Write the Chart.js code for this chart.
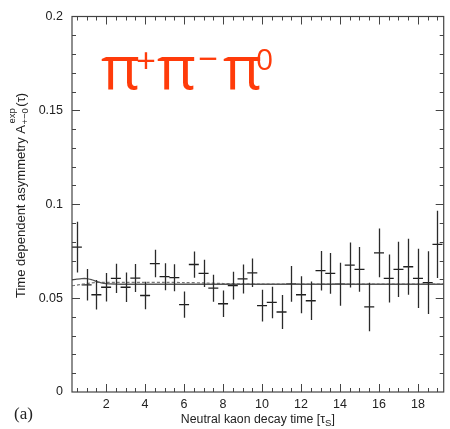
<!DOCTYPE html>
<html>
<head>
<meta charset="utf-8">
<script src="https://cdn.jsdelivr.net/npm/chart.js@4.4.1/dist/chart.umd.min.js"></script>
<style>
  html, body { margin: 0; padding: 0; background: #fff; }
  #chart { display: block; }
</style>
</head>
<body>
<canvas id="chart" width="450" height="429"></canvas>
<script>
// bins of the decay time (tau_S) and measured asymmetry with its error
var binT = [0.5, 1.0, 1.5, 2.0, 2.5, 3.0, 3.5, 4.0, 4.5, 5.0, 5.5, 6.0, 6.5, 7.0, 7.5, 8.0, 8.5, 9.0, 9.5,
    10.0, 10.5, 11.0, 11.5, 12.0, 12.5, 13.0, 13.5, 14.0, 14.5, 15.0, 15.5, 16.0, 16.5, 17.0, 17.5, 18.0, 18.5, 19.0];
var asym = [0.0772, 0.0571, 0.0518, 0.0558, 0.0605, 0.0558, 0.0607, 0.0514, 0.0684, 0.0614, 0.0609, 0.0465, 0.0679,
    0.0632, 0.0553, 0.0470, 0.0567, 0.0602, 0.0635, 0.0460, 0.0477, 0.0426, 0.0576, 0.0518, 0.0486, 0.0646, 0.0632,
    0.0574, 0.0676, 0.0653, 0.0453, 0.0741, 0.0605, 0.0653, 0.0667, 0.0605, 0.0583, 0.0786];
var asymErr = [0.0135, 0.0084, 0.0079, 0.0076, 0.0078, 0.0079, 0.0075, 0.0073, 0.0073, 0.0072, 0.0072, 0.0070, 0.0070,
    0.0073, 0.0072, 0.0070, 0.0074, 0.0077, 0.0076, 0.0084, 0.0084, 0.0090, 0.0095, 0.0098, 0.0103, 0.0105, 0.0109,
    0.0114, 0.0120, 0.0119, 0.0129, 0.0130, 0.0128, 0.0147, 0.0149, 0.0158, 0.0167, 0.0179];

// fit curves
var fitT = [0.25, 0.5, 0.75, 1.0, 1.25, 1.5, 1.75, 2.0, 2.5, 3, 4, 5, 6, 7, 8, 9, 10, 12, 14, 16, 18, 19.32];
var fitSolid = [0.0597, 0.0601, 0.0604, 0.0604, 0.0598, 0.0589, 0.0581, 0.0577, 0.0575, 0.0574, 0.0574, 0.0574, 0.0574,
    0.0574, 0.0574, 0.0574, 0.0574, 0.0574, 0.0574, 0.0574, 0.0574, 0.0574];
var fitDashed = [0.0566, 0.0569, 0.0574, 0.0578, 0.0581, 0.0583, 0.0584, 0.0584, 0.0584, 0.0584, 0.0584, 0.0584, 0.0583,
    0.0581, 0.0578, 0.0576, 0.0575, 0.0575, 0.0575, 0.0575, 0.0575, 0.0575];

// axes
var xTickVals = [2, 4, 6, 8, 10, 12, 14, 16, 18];
var yTickVals = [0, 0.05, 0.1, 0.15, 0.2];

var tickFont = { family: "'Liberation Sans', Arial, sans-serif", size: 12.5 };

function pairs(xs, ys) {
    return xs.map(function (v, i) { return { x: v, y: ys[i] }; });
}

var decor = {
    id: 'decor',
    afterDatasetsDraw: function (chart) {
        var ctx = chart.ctx, xs = chart.scales.x, ys = chart.scales.y;
        ctx.save();
        ctx.strokeStyle = '#2a2a2a';
        ctx.lineWidth = 1.3;
        ctx.beginPath();
        for (var i = 0; i < binT.length; i++) {
            var px = Math.round(xs.getPixelForValue(binT[i])) + 0.5;
            ctx.moveTo(px, ys.getPixelForValue(asym[i] - asymErr[i]));
            ctx.lineTo(px, ys.getPixelForValue(asym[i] + asymErr[i]));
        }
        ctx.stroke();
        ctx.restore();
    },
    afterDraw: function (chart) {
        var ctx = chart.ctx, a = chart.chartArea, xs = chart.scales.x, ys = chart.scales.y;
        ctx.save();
        // frame
        ctx.strokeStyle = '#444';
        ctx.lineWidth = 1.2;
        ctx.strokeRect(a.left, a.top, a.right - a.left, a.bottom - a.top);

        // inward ticks on all four sides
        ctx.lineWidth = 1;
        ctx.beginPath();
        for (var k = 1; k * 0.5 < xs.max; k++) {
            var t = k * 0.5;
            var px = Math.round(xs.getPixelForValue(t)) + 0.5;
            var len = (k % 4 === 0) ? 8 : 4;
            ctx.moveTo(px, a.bottom); ctx.lineTo(px, a.bottom - len);
            ctx.moveTo(px, a.top); ctx.lineTo(px, a.top + len);
        }
        for (var j = 1; j < 20; j++) {
            var py = Math.round(ys.getPixelForValue(j * 0.01)) + 0.5;
            var l2 = (j % 5 === 0) ? 8 : 4;
            ctx.moveTo(a.left, py); ctx.lineTo(a.left + l2, py);
            ctx.moveTo(a.right, py); ctx.lineTo(a.right - l2, py);
        }
        ctx.stroke();

        // x axis title
        ctx.fillStyle = '#222';
        ctx.textBaseline = 'alphabetic';
        ctx.textAlign = 'left';
        var f = "12.3px 'Liberation Sans', Arial, sans-serif";
        var fs = "9.5px 'Liberation Sans', Arial, sans-serif";
        ctx.font = f;
        var p1 = 'Neutral kaon decay time [\u03c4';
        var w1 = ctx.measureText(p1).width;
        ctx.font = fs;
        var w2 = ctx.measureText('S').width;
        ctx.font = f;
        var w3 = ctx.measureText(']').width;
        var x0 = (a.left + a.right) / 2 - (w1 + w2 + w3) / 2;
        var by = 422.5;
        ctx.fillText(p1, x0, by);
        ctx.font = fs;
        ctx.fillText('S', x0 + w1, by + 3);
        ctx.font = f;
        ctx.fillText(']', x0 + w1 + w2, by);

        // y axis title, rotated
        var fy = "13px 'Liberation Sans', Arial, sans-serif";
        ctx.save();
        ctx.translate(25, 298);
        ctx.rotate(-Math.PI / 2);
        ctx.font = fy;
        var q1 = 'Time dependent asymmetry A';
        ctx.fillText(q1, 0, 0);
        var qx = ctx.measureText(q1).width + 0.5;
        ctx.font = fs;
        ctx.fillText('+\u22120', qx, 3);
        ctx.fillText('exp', qx + 1, -10);
        var qw = ctx.measureText('+\u22120').width;
        ctx.font = fy;
        ctx.fillText('(\u03c4)', qx + qw + 1.5, 0);
        ctx.restore();

        // panel label
        ctx.font = "17px 'Liberation Serif', 'Times New Roman', serif";
        ctx.fillStyle = '#222';
        ctx.fillText('(a)', 14, 419);

        // channel label
        ctx.fillStyle = '#ff3b0a';
        var big = "60px 'Open Sans', 'Noto Sans', sans-serif";
        var sup = "35px 'Open Sans', 'Noto Sans', sans-serif";
        ctx.font = big;
        ctx.fillText('\u03c0', 101, 89);
        ctx.fillText('\u03c0', 157, 89);
        ctx.fillText('\u03c0', 223, 89);
        ctx.font = sup;
        ctx.fillText('+', 136, 73);
        ctx.fillText('\u2212', 198, 71);
        ctx.font = "30px 'Open Sans', 'Noto Sans', sans-serif";
        ctx.fillText('0', 256, 70);
        ctx.restore();
    }
};

var ctx = document.getElementById('chart');
var chart = new Chart(ctx, {
    type: 'scatter',
    data: {
        datasets: [
            {
                label: 'fit',
                data: pairs(fitT, fitSolid),
                showLine: true,
                borderColor: '#555',
                borderWidth: 1.3,
                pointRadius: 0,
                tension: 0.3
            },
            {
                label: 'fit2',
                data: pairs(fitT, fitDashed),
                showLine: true,
                borderColor: '#777',
                borderWidth: 1.2,
                borderDash: [3, 2],
                pointRadius: 0,
                tension: 0.3
            },
            {
                label: 'data',
                data: pairs(binT, asym),
                pointStyle: 'line',
                pointRadius: 5,
                pointBorderWidth: 1.3,
                pointBorderColor: '#1e1e1e',
                pointBackgroundColor: '#1e1e1e'
            }
        ]
    },
    options: {
        responsive: false,
        animation: false,
        layout: { padding: { top: 8, right: 2, left: 0, bottom: 0 } },
        plugins: {
            legend: { display: false },
            tooltip: { enabled: false }
        },
        scales: {
            x: {
                type: 'linear',
                min: 0.25,
                max: 19.32,
                afterBuildTicks: function (scale) {
                    scale.ticks = xTickVals.map(function (v) { return { value: v }; });
                },
                afterFit: function (scale) { scale.height = 37; },
                grid: { display: false, drawTicks: false },
                border: { display: false },
                ticks: { font: tickFont, color: '#222', padding: 5, maxRotation: 0, autoSkip: false }
            },
            y: {
                type: 'linear',
                min: 0,
                max: 0.2,
                afterBuildTicks: function (scale) {
                    scale.ticks = yTickVals.map(function (v) { return { value: v }; });
                },
                afterFit: function (scale) { scale.width = 72; },
                grid: { display: false, drawTicks: false },
                border: { display: false },
                ticks: {
                    font: tickFont, color: '#222', padding: 9, autoSkip: false,
                    callback: function (v) { return String(v); }
                }
            }
        }
    },
    plugins: [decor]
});
</script>
</body>
</html>
